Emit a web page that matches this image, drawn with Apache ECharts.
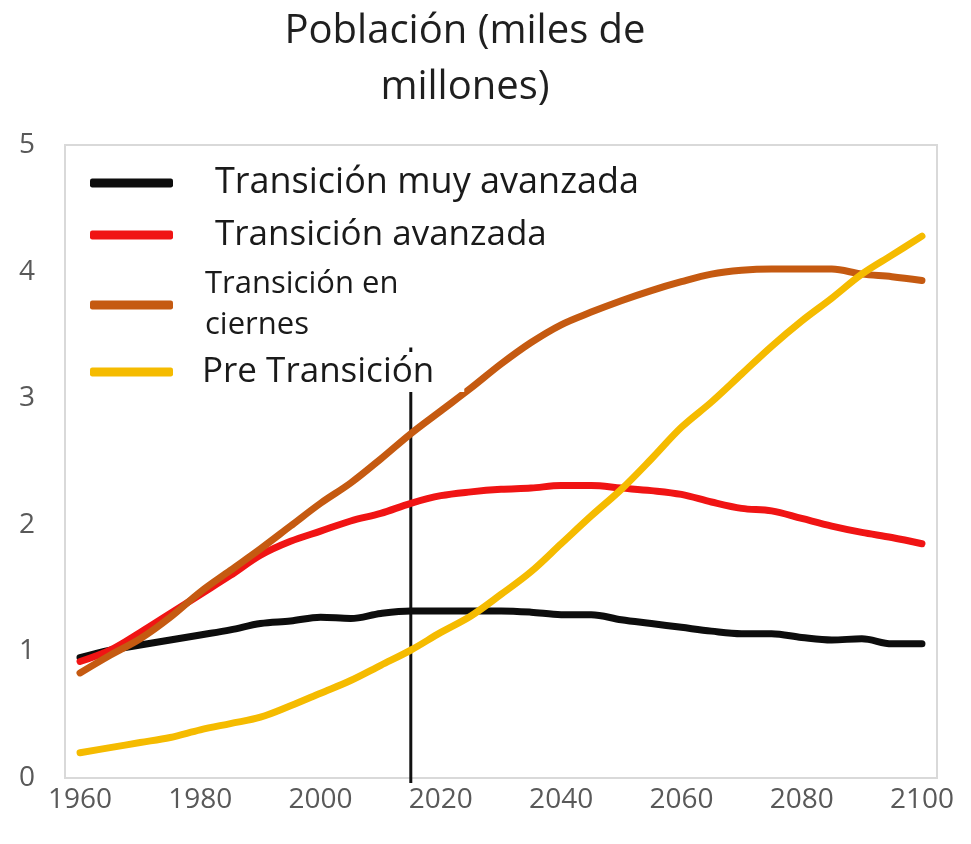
<!DOCTYPE html>
<html>
<head>
<meta charset="utf-8">
<script src="https://cdn.jsdelivr.net/npm/echarts@6.0.0/dist/echarts.min.js"></script>
<style>
  html, body { margin: 0; padding: 0; background: #fff; }
  #chart { width: 971px; height: 844px; }
</style>
</head>
<body>
<div id="chart"></div>
<script>
// años cada 5 (1960-2100)
const years = [1960, 1965, 1970, 1975, 1980, 1985, 1990, 1995, 2000, 2005, 2010, 2015, 2020, 2025, 2030,
    2035, 2040, 2045, 2050, 2055, 2060, 2065, 2070, 2075, 2080, 2085, 2090, 2095, 2100]

const muyAvanzada = [0.95, 1.01, 1.05, 1.09, 1.13, 1.17, 1.22, 1.24, 1.27, 1.26, 1.30, 1.32, 1.32, 1.32, 1.32,
    1.31, 1.29, 1.29, 1.25, 1.22, 1.19, 1.16, 1.14, 1.14, 1.11, 1.09, 1.10, 1.06, 1.06]
const avanzada = [0.92, 1.01, 1.15, 1.30, 1.45, 1.60, 1.76, 1.87, 1.95, 2.03, 2.09, 2.17, 2.23, 2.26, 2.28,
    2.29, 2.31, 2.31, 2.29, 2.27, 2.24, 2.18, 2.13, 2.11, 2.05, 1.99, 1.94, 1.90, 1.85]
const enCiernes = [0.83, 0.97, 1.10, 1.27, 1.47, 1.64, 1.81, 1.99, 2.17, 2.33, 2.52, 2.72, 2.90, 3.08, 3.27,
    3.44, 3.58, 3.68, 3.77, 3.85, 3.92, 3.98, 4.01, 4.02, 4.02, 4.02, 3.98, 3.96, 3.93]
const preTransicion = [0.20, 0.24, 0.28, 0.32, 0.38, 0.43, 0.48, 0.57, 0.67, 0.77, 0.89, 1.01, 1.15, 1.28, 1.45,
    1.63, 1.85, 2.07, 2.28, 2.52, 2.77, 2.97, 3.19, 3.41, 3.61, 3.79, 3.98, 4.13, 4.28]

const xTickLabels = [1960, 1980, 2000, 2020, 2040, 2060, 2080, 2100]

// línea vertical (año actual)
const markerYear = 2015
const markerRange = [-0.04, 3.4]

const names = ['Transición muy avanzada', 'Transición avanzada', 'Transición en\nciernes', 'Pre Transición']
const colors = ['#0d0d0d', '#f01414', '#c55a11', '#f5bb00']

const pairs = vals => years.map((y, i) => [y, vals[i]])

const chart = echarts.init(document.getElementById('chart'), null, { renderer: 'canvas' })

function lineSeries(name, vals, color) {
    return {
        name,
        type: 'line',
        data: pairs(vals),
        smooth: 0.35,
        symbol: 'none',
        color,
        lineStyle: { color, width: 7, cap: 'round' }
    }
}

function legendItem(name, top, fontSize, lineHeight, padLeft, extra) {
    return Object.assign({
        data: [name],
        left: 90,
        top,
        orient: 'vertical',
        icon: 'roundRect',
        itemWidth: 83,
        itemHeight: 9,
        padding: 0,
        selectedMode: false,
        textStyle: {
            fontFamily: 'Open Sans',
            fontSize,
            lineHeight,
            color: '#1a1a1a',
            padding: [0, 0, 0, padLeft]
        }
    }, extra || {})
}

chart.setOption({
    animation: false,
    backgroundColor: '#fff',
    graphic: [{
        type: 'text',
        x: 465,
        y: 4,
        style: {
            text: 'Población (miles de\nmillones)',
            textAlign: 'center',
            fontFamily: 'Open Sans',
            fontSize: 40,
            lineHeight: 56,
            fill: '#1f1f1f'
        }
    }],
    legend: [
        legendItem(names[0], 163, 36, 40, 37),
        legendItem(names[1], 215, 35, 40, 37),
        legendItem(names[2], 264, 31, 41, 27),
        legendItem(names[3], 352, 35, 40, 24, { backgroundColor: '#fff', padding: [0, 30, 0, 0] })
    ],
    grid: {
        left: 65,
        right: 34,
        top: 145,
        bottom: 66,
        show: true,
        borderColor: '#d9d9d9',
        borderWidth: 2,
        containLabel: false
    },
    xAxis: {
        type: 'value',
        min: 1957.5,
        max: 2102.5,
        axisLine: { show: false },
        axisTick: { show: false },
        splitLine: { show: false },
        axisLabel: {
            customValues: xTickLabels,
            fontFamily: 'Open Sans',
            fontSize: 28,
            color: '#595959',
            margin: 8,
            formatter: v => String(v)
        }
    },
    yAxis: {
        type: 'value',
        min: 0,
        max: 5,
        interval: 1,
        axisLine: { show: false },
        axisTick: { show: false },
        splitLine: { show: false },
        axisLabel: {
            fontFamily: 'Open Sans',
            fontSize: 28,
            color: '#595959',
            margin: 30
        }
    },
    series: [
        {
            name: 'marcador',
            type: 'line',
            data: markerRange.map(v => [markerYear, v]),
            symbol: 'none',
            clip: false,
            lineStyle: { color: '#111', width: 3 },
            z: 1
        },
        lineSeries(names[0], muyAvanzada, colors[0]),
        lineSeries(names[1], avanzada, colors[1]),
        lineSeries(names[2], enCiernes, colors[2]),
        lineSeries(names[3], preTransicion, colors[3])
    ]
})
</script>
</body>
</html>
